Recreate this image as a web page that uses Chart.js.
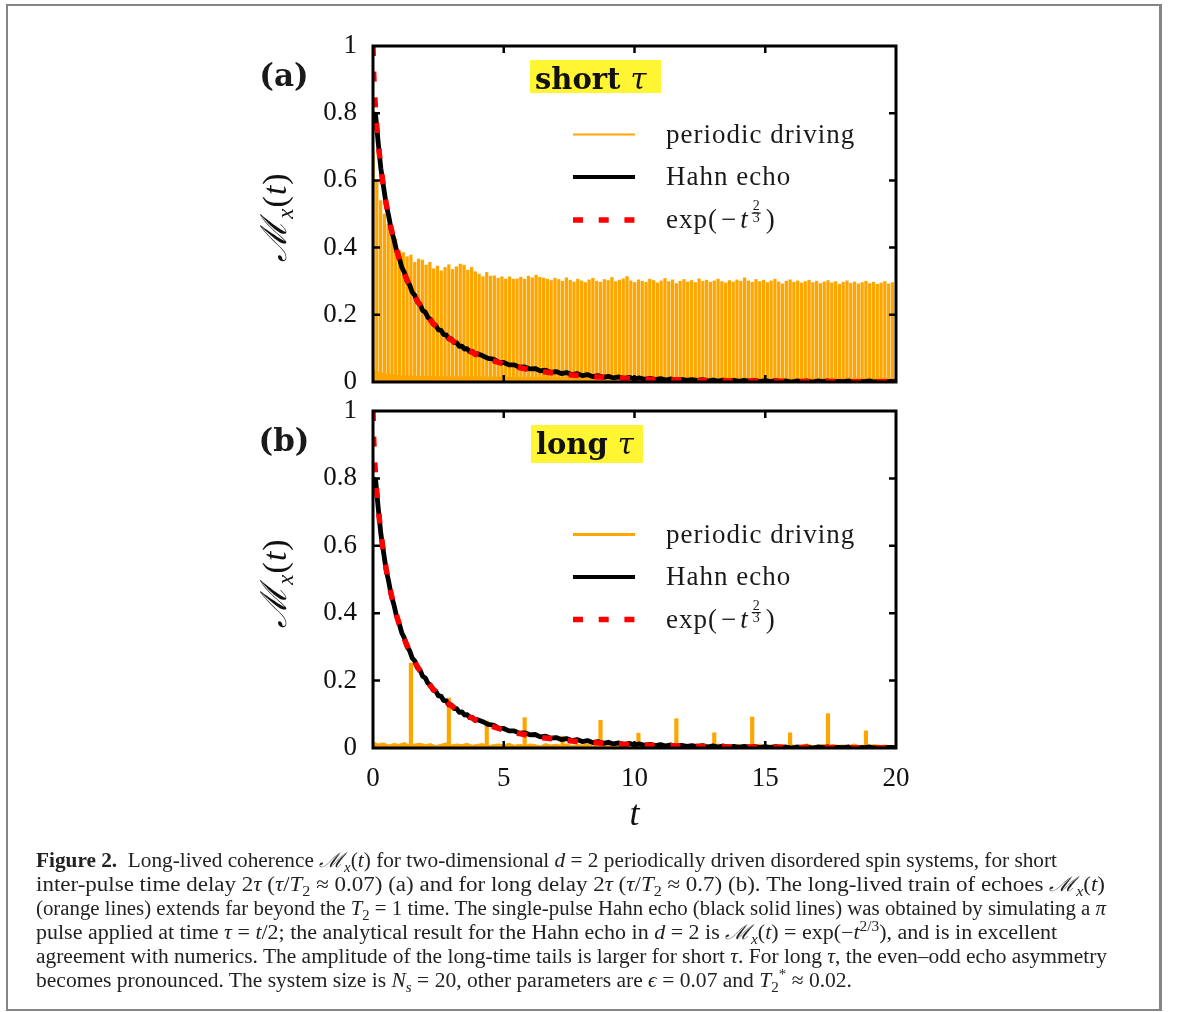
<!DOCTYPE html>
<html lang="en">
<head>
<meta charset="UTF-8" />
<title>Long-lived coherence Mx(t)</title>
<script src="https://cdn.jsdelivr.net/npm/chart.js"></script>
<style>
  body { margin: 0; background: #fff; width: 1179px; height: 1012px; position: relative; overflow: hidden; }
  .frame { position: absolute; left: 6px; top: 4px; width: 1156px; height: 1007px; box-sizing: border-box;
           border: 2px solid #858585; border-right-width: 3px; }
  canvas { position: absolute; left: 0; }
  #panelA { top: 0; }
  #panelB { top: 370px; }
  .caption { position: absolute; left: 36px; top: 848px; font-family: "Liberation Serif", serif;
             font-size: 20.5px; line-height: 24px; color: #222; }
  .caption .line { display: block; white-space: nowrap; width: max-content; transform-origin: 0 0; height: 24px; }
  .caption sub, .caption sup { font-size: 0.7em; line-height: 0; }
</style>
</head>
<body>
<div class="frame"></div>
<canvas id="panelA" width="1179" height="420"></canvas>
<canvas id="panelB" width="1179" height="480"></canvas>

<div class="caption">
  <div class="line" data-w="1021"><b>Figure 2.</b>&nbsp;&nbsp;Long-lived coherence <i>ℳ</i><sub><i>x</i></sub>(<i>t</i>) for two-dimensional <i>d</i> = 2 periodically driven disordered spin systems, for short</div>
  <div class="line" data-w="1069">inter-pulse time delay 2<i>τ</i> (<i>τ</i>/<i>T</i><sub>2</sub> ≈ 0.07) (a) and for long delay 2<i>τ</i> (<i>τ</i>/<i>T</i><sub>2</sub> ≈ 0.7) (b). The long-lived train of echoes <i>ℳ</i><sub><i>x</i></sub>(<i>t</i>)</div>
  <div class="line" data-w="1070">(orange lines) extends far beyond the <i>T</i><sub>2</sub> = 1 time. The single-pulse Hahn echo (black solid lines) was obtained by simulating a <i>π</i></div>
  <div class="line" data-w="1021">pulse applied at time <i>τ</i> = <i>t</i>/2; the analytical result for the Hahn echo in <i>d</i> = 2 is <i>ℳ</i><sub><i>x</i></sub>(<i>t</i>) = exp(−<i>t</i><sup>2/3</sup>), and is in excellent</div>
  <div class="line" data-w="1071">agreement with numerics. The amplitude of the long-time tails is larger for short <i>τ</i>. For long <i>τ</i>, the even–odd echo asymmetry</div>
  <div class="line" data-w="816">becomes pronounced. The system size is <i>N</i><sub><i>s</i></sub> = 20, other parameters are <i>ϵ</i> = 0.07 and <i>T</i><sub>2</sub><sup>*</sup> ≈ 0.02.</div>
</div>

<script>
// axes: time 0..20, coherence 0..1
const xTicks = [0, 5, 10, 15, 20];
const yTicks = [0, 0.2, 0.4, 0.6, 0.8, 1];

// (a) short tau: one echo every 0.145 time units, peak heights
const echoPeriodA = 0.145;
const echoPeaksA = [
  0.68, 0.60, 0.54, 0.50, 0.47, 0.44, 0.425,
  0.391, 0.385, 0.373, 0.378, 0.356, 0.366, 0.363, 0.348, 0.356, 0.337, 0.345, 0.331, 0.341, 0.349,
  0.335, 0.343, 0.351, 0.348, 0.333, 0.341, 0.328, 0.321, 0.313, 0.326, 0.315, 0.316, 0.309, 0.313,
  0.306, 0.313, 0.306, 0.307, 0.312, 0.306, 0.315, 0.310, 0.318, 0.312, 0.309, 0.306, 0.302, 0.309,
  0.305, 0.300, 0.310, 0.303, 0.298, 0.306, 0.301, 0.296, 0.304, 0.309, 0.300, 0.297, 0.305, 0.302,
  0.311, 0.299, 0.303, 0.307, 0.314, 0.301, 0.296, 0.304,
  0.300, 0.297, 0.306, 0.302, 0.295, 0.301, 0.308, 0.299, 0.304, 0.293, 0.300, 0.305, 0.298, 0.302,
  0.296, 0.307, 0.300, 0.303, 0.297, 0.301, 0.306, 0.299,
  0.295, 0.302, 0.298, 0.304, 0.300, 0.310, 0.301, 0.297, 0.305, 0.299, 0.303, 0.296, 0.301, 0.306,
  0.298, 0.292, 0.300, 0.304, 0.297, 0.301, 0.295, 0.299,
  0.303, 0.296, 0.300, 0.293, 0.298, 0.302, 0.295, 0.299, 0.291, 0.297, 0.301, 0.294, 0.298, 0.292,
  0.296, 0.300, 0.293, 0.297, 0.291, 0.295, 0.299, 0.292, 0.296
];
// orange floor between the dense echoes
const floorTA = [0, 0.5, 1, 2, 4, 8, 12, 16, 20];
const floorVA = [0.035, 0.025, 0.02, 0.018, 0.016, 0.015, 0.014, 0.013, 0.013];

// (b) long tau: isolated echoes
const echoTimesB = [1.45, 2.9, 4.35, 5.8, 7.25, 8.7, 10.15, 11.6, 13.05, 14.5, 15.95, 17.4, 18.85];
const echoPeaksB = [0.252, 0.148, 0.080, 0.090, 0.035, 0.082, 0.044, 0.087, 0.045, 0.092, 0.045, 0.102, 0.051];
// residual signal between echoes, sampled every 0.2
const noiseStepB = 0.2;
const noiseB = [
  0.018, 0.012, 0.015, 0.009, 0.013, 0.011, 0.016, 0.008, 0.012, 0.014, 0.010, 0.013, 0.007, 0.011, 0.015, 0.009, 0.012, 0.010, 0.014, 0.008,
  0.011, 0.013, 0.006, 0.010, 0.012, 0.009, 0.014, 0.008, 0.011, 0.007, 0.012, 0.010, 0.006, 0.013, 0.009, 0.011, 0.008, 0.012, 0.007, 0.010,
  0.009, 0.012, 0.006, 0.010, 0.008, 0.011, 0.007, 0.013, 0.009, 0.006, 0.010, 0.008, 0.012, 0.007, 0.009, 0.011, 0.006, 0.010, 0.008, 0.012,
  0.007, 0.009, 0.011, 0.006, 0.010, 0.008, 0.012, 0.007, 0.009, 0.006, 0.011, 0.008, 0.010, 0.007, 0.012, 0.006, 0.009, 0.008, 0.011, 0.007,
  0.010, 0.006, 0.009, 0.012, 0.007, 0.008, 0.011, 0.006, 0.010, 0.008, 0.009, 0.007, 0.012, 0.006, 0.009, 0.008, 0.010, 0.007, 0.009, 0.006, 0.008
];

// single-pulse Hahn echo (same simulation in both panels)
const hahnT = [
  0, 0.1, 0.2, 0.3, 0.4, 0.5, 0.6, 0.7, 0.8, 0.9, 1.0, 1.1, 1.2, 1.3, 1.4, 1.5, 1.6, 1.7, 1.8, 1.9,
  2.0, 2.1, 2.2, 2.3, 2.4, 2.5, 2.6, 2.7, 2.8, 2.9, 3.0, 3.1, 3.2, 3.3, 3.4, 3.5, 3.6, 3.7, 3.8, 3.9, 4.0,
  4.2, 4.4, 4.6, 4.8, 5.0, 5.2, 5.4, 5.6, 5.8, 6.0, 6.2, 6.4, 6.6, 6.8, 7.0, 7.2, 7.4, 7.6, 7.8, 8.0,
  8.2, 8.4, 8.6, 8.8, 9.0, 9.2, 9.4, 9.6, 9.8, 10.0, 10.2, 10.4, 10.6, 10.8, 11.0, 11.2, 11.4, 11.6, 11.8, 12.0,
  12.2, 12.4, 12.6, 12.8, 13.0, 13.2, 13.4, 13.6, 13.8, 14.0, 14.2, 14.4, 14.6, 14.8, 15.0, 15.2, 15.4, 15.6, 15.8, 16.0,
  16.2, 16.4, 16.6, 16.8, 17.0, 17.2, 17.4, 17.6, 17.8, 18.0, 18.2, 18.4, 18.6, 18.8, 19.0, 19.2, 19.4, 19.6, 19.8, 20.0
];
const hahnV = [
  0.800, 0.795, 0.712, 0.636, 0.583, 0.530, 0.494, 0.452, 0.425, 0.391, 0.370, 0.342, 0.326, 0.301, 0.289, 0.267, 0.258, 0.238, 0.231, 0.213,
  0.208, 0.192, 0.187, 0.172, 0.169, 0.155, 0.154, 0.141, 0.140, 0.128, 0.128, 0.117, 0.117, 0.106, 0.107, 0.098, 0.099, 0.090, 0.091, 0.082, 0.084,
  0.078, 0.070, 0.068, 0.059, 0.058, 0.051, 0.051, 0.044, 0.045, 0.039, 0.040, 0.033, 0.035, 0.029, 0.031, 0.025, 0.028, 0.022, 0.025, 0.019,
  0.022, 0.016, 0.019, 0.014, 0.017, 0.012, 0.015, 0.010, 0.014, 0.009, 0.012, 0.008, 0.011, 0.007, 0.010, 0.006, 0.009, 0.005, 0.008, 0.005,
  0.007, 0.004, 0.007, 0.003, 0.006, 0.003, 0.006, 0.002, 0.005, 0.002, 0.005, 0.002, 0.004, 0.001, 0.004, 0.001, 0.004, 0.001, 0.003, 0.000,
  0.003, 0.001, 0.003, 0.000, 0.003, 0.001, 0.003, 0.000, 0.002, 0.001, 0.003, 0.000, 0.002, 0.001, 0.003, 0.000, 0.002, 0.001, 0.002, 0.001
];

// analytical curve exp(-t^(2/3))
const expT = [0, 0.02, 0.05, 0.1, 0.15, 0.2, 0.3, 0.4, 0.5, 0.6, 0.7, 0.8, 0.9, 1.0, 1.2, 1.4, 1.6, 1.8, 2.0, 2.2, 2.4, 2.6, 2.8, 3.0,
              3.5, 4.0, 4.5, 5, 5.5, 6, 6.5, 7, 7.5, 8, 9, 10, 11, 12, 13, 14, 15, 16, 17, 18, 19, 20];
const expV = [1, 0.929, 0.873, 0.806, 0.754, 0.710, 0.639, 0.581, 0.533, 0.491, 0.455, 0.422, 0.394, 0.368, 0.323, 0.286, 0.255, 0.228,
              0.205, 0.184, 0.166, 0.151, 0.137, 0.125, 0.0998, 0.0805, 0.0655, 0.0537, 0.0443, 0.0368, 0.0307, 0.0258, 0.0217, 0.0183,
              0.0132, 0.0096, 0.0071, 0.0053, 0.0040, 0.0030, 0.0023, 0.0018, 0.0014, 0.0010, 0.0008, 0.0006];

const ORANGE = '#ffa500';
const SERIF = '"Liberation Serif", serif';
const pairs = (xs, ys) => xs.map((x, i) => ({ x, y: ys[i] }));

function curveSets() {
  return [
    { type: 'line', label: 'exp(−t^(2/3))', data: pairs(expT, expV), borderColor: '#ff0000', borderWidth: 5.5,
      borderDash: [10, 15.7], pointRadius: 0, tension: 0, fill: false },
    { type: 'line', label: 'Hahn echo', data: pairs(hahnT, hahnV), borderColor: '#000', borderWidth: 4.8,
      borderJoinStyle: 'round', pointRadius: 0, tension: 0, fill: false }
  ];
}

// "ℳx(t)" written sideways
function drawYTitle(ctx, cx, cy) {
  const parts = [
    { t: 'ℳ', f: 'italic 36px "DejaVu Serif"', dy: 0 },
    { t: 'x', f: 'italic 23px ' + SERIF, dy: 7 },
    { t: '(', f: '34px ' + SERIF, dy: 0 },
    { t: 't', f: 'italic 34px ' + SERIF, dy: 0 },
    { t: ')', f: '34px ' + SERIF, dy: 0 }
  ];
  ctx.save();
  ctx.translate(cx, cy);
  ctx.rotate(-Math.PI / 2);
  let w = 0;
  parts.forEach(p => { ctx.font = p.f; p.w = ctx.measureText(p.t).width + 1; w += p.w; });
  let x = -w / 2;
  ctx.textAlign = 'left';
  ctx.textBaseline = 'alphabetic';
  parts.forEach(p => { ctx.font = p.f; ctx.fillText(p.t, x, 11 + p.dy); x += p.w; });
  ctx.restore();
}

// legend text, with the t^(2/3) exponent drawn as a small fraction
function drawLegendText(ctx, label, x, base) {
  ctx.letterSpacing = '1px';
  const m = label.match(/^(.*)t\^\((\d)\/(\d)\)(.*)$/);
  if (!m) {
    ctx.font = '27px ' + SERIF;
    ctx.fillText(label, x, base);
    return;
  }
  ctx.font = '27px ' + SERIF;
  const head = m[1].replace('−', '');
  ctx.fillText(head, x, base);
  x += ctx.measureText(head).width + 3;
  ctx.fillText('−', x, base);
  x += ctx.measureText('−').width + 3;
  ctx.font = 'italic 27px ' + SERIF;
  ctx.fillText('t', x, base);
  x += ctx.measureText('t').width + 3;
  ctx.font = '14px ' + SERIF;
  ctx.textAlign = 'center';
  ctx.letterSpacing = '0px';
  ctx.fillText(m[2], x + 4.5, base - 18);
  ctx.fillText(m[3], x + 4.5, base - 6);
  ctx.fillRect(x, base - 15.5, 9, 1.2);
  ctx.textAlign = 'left';
  x += 14;
  ctx.font = '27px ' + SERIF;
  ctx.fillText(m[4], x, base);
}

function makeDecor(cfg) {
  return {
    id: 'decor',
    afterDatasetsDraw(chart) {
      const { ctx, chartArea: a, scales: { x, y } } = chart;
      ctx.save();
      ctx.strokeStyle = '#000';
      ctx.lineWidth = 2.5;
      const len = 7;
      ctx.beginPath();
      xTicks.slice(1, -1).forEach(v => {
        const px = x.getPixelForValue(v);
        ctx.moveTo(px, a.top); ctx.lineTo(px, a.top + len);
        ctx.moveTo(px, a.bottom); ctx.lineTo(px, a.bottom - len);
      });
      yTicks.slice(1, -1).forEach(v => {
        const py = y.getPixelForValue(v);
        ctx.moveTo(a.left, py); ctx.lineTo(a.left + len, py);
        ctx.moveTo(a.right, py); ctx.lineTo(a.right - len, py);
      });
      ctx.stroke();
      ctx.lineWidth = 3;
      ctx.strokeRect(a.left, a.top, a.right - a.left, a.bottom - a.top);
      ctx.restore();
    },
    afterDraw(chart) {
      const ctx = chart.ctx;
      ctx.save();
      ctx.fillStyle = '#1a1a1a';

      // panel tag
      ctx.font = 'bold 31px "DejaVu Serif"';
      ctx.textAlign = 'center';
      ctx.textBaseline = 'middle';
      ctx.fillText(cfg.tag, cfg.tagX, cfg.tagY);

      // highlighted regime label
      const b = cfg.box;
      ctx.fillStyle = '#fff533';
      ctx.fillRect(b.x, b.y, b.w, b.h);
      ctx.fillStyle = '#111';
      ctx.textAlign = 'left';
      ctx.textBaseline = 'alphabetic';
      ctx.font = 'bold 29px "DejaVu Serif"';
      ctx.fillText(cfg.title + ' ', b.tx, b.base);
      const tw = ctx.measureText(cfg.title + ' ').width;
      ctx.font = 'italic 29px "DejaVu Serif"';
      ctx.fillText('τ', b.tx + tw, b.base);

      // legend
      cfg.legend.forEach((row, i) => {
        const ds = chart.data.datasets[row.ds];
        const ly = cfg.legendY[i];
        ctx.save();
        ctx.strokeStyle = ds.type === 'bar' ? ds.backgroundColor : ds.borderColor;
        ctx.lineWidth = row.width || ds.borderWidth;
        ctx.setLineDash(ds.borderDash || []);
        ctx.beginPath();
        ctx.moveTo(573, ly);
        ctx.lineTo(635, ly);
        ctx.stroke();
        ctx.restore();
        ctx.fillStyle = '#1a1a1a';
        drawLegendText(ctx, ds.label, 666, ly + 8);
      });

      ctx.fillStyle = '#111';
      ctx.letterSpacing = '0px';
      drawYTitle(ctx, 275, cfg.yTitleY);
      ctx.restore();
    }
  };
}

const tickFont = { family: SERIF, size: 27 };

function makePanel(id, height, top, bottom, datasets, cfg, showX) {
  return new Chart(document.getElementById(id), {
    type: 'bar',
    data: { datasets },
    options: {
      responsive: false,
      animation: false,
      events: [],
      devicePixelRatio: 1,
      layout: { padding: { left: 313, right: 283, top, bottom: 0 } },
      scales: {
        x: {
          type: 'linear', min: 0, max: 20, offset: false,
          grid: { display: false, drawTicks: false, offset: false },
          border: { display: false },
          ticks: { display: showX, stepSize: 5, padding: 15, color: '#111', font: tickFont, maxRotation: 0 },
          title: { display: showX, text: 't', color: '#111', font: { family: SERIF, size: 36, style: 'italic' },
                   padding: { top: 0, bottom: 13 } },
          afterFit: s => { s.height = height - bottom; }
        },
        y: {
          min: 0, max: 1,
          grid: { display: false, drawTicks: false },
          border: { display: false },
          ticks: { stepSize: 0.2, padding: 16, color: '#111', font: tickFont,
                   callback: v => String(Math.round(v * 10) / 10) },
          afterFit: s => { s.width = 60; }
        }
      },
      plugins: { legend: { display: false }, tooltip: { enabled: false } }
    },
    plugins: [makeDecor(cfg)]
  });
}

// (a) short tau
makePanel('panelA', 420, 46, 382, [
  ...curveSets(),
  { type: 'bar', label: 'periodic driving', data: echoPeaksA.map((v, k) => ({ x: k * echoPeriodA, y: v })),
    backgroundColor: ORANGE, barThickness: 2.6, grouped: false },
  { type: 'line', label: '', data: pairs(floorTA, floorVA), borderColor: 'rgba(0,0,0,0)', borderWidth: 0,
    backgroundColor: ORANGE, fill: 'origin', pointRadius: 0 }
], {
  tag: '(a)', tagX: 284, tagY: 78, title: 'short',
  box: { x: 530, y: 60, w: 131, h: 33, tx: 535, base: 89 },
  legend: [{ ds: 2, width: 2 }, { ds: 1, width: 4.2 }, { ds: 0 }],
  legendY: [134.5, 177, 220],
  yTitleY: 217
}, false);

// (b) long tau
makePanel('panelB', 480, 41, 378, [
  ...curveSets(),
  { type: 'bar', label: 'periodic driving', data: pairs(echoTimesB, echoPeaksB),
    backgroundColor: ORANGE, barThickness: 3.5, grouped: false },
  { type: 'line', label: '', data: noiseB.map((v, k) => ({ x: k * noiseStepB, y: v })), borderColor: ORANGE,
    borderWidth: 1, backgroundColor: ORANGE, fill: 'origin', pointRadius: 0, tension: 0 }
], {
  tag: '(b)', tagX: 284, tagY: 73, title: 'long',
  box: { x: 531, y: 55, w: 112, h: 38, tx: 536, base: 84 },
  legend: [{ ds: 2, width: 3 }, { ds: 1, width: 4.2 }, { ds: 0 }],
  legendY: [164.5, 207, 249.5],
  yTitleY: 213
}, true);

// squeeze each caption line to its set width
document.querySelectorAll('.caption .line').forEach(el => {
  const w = el.getBoundingClientRect().width;
  el.style.transform = 'scaleX(' + (Number(el.dataset.w) / w) + ')';
});
</script>
</body>
</html>
